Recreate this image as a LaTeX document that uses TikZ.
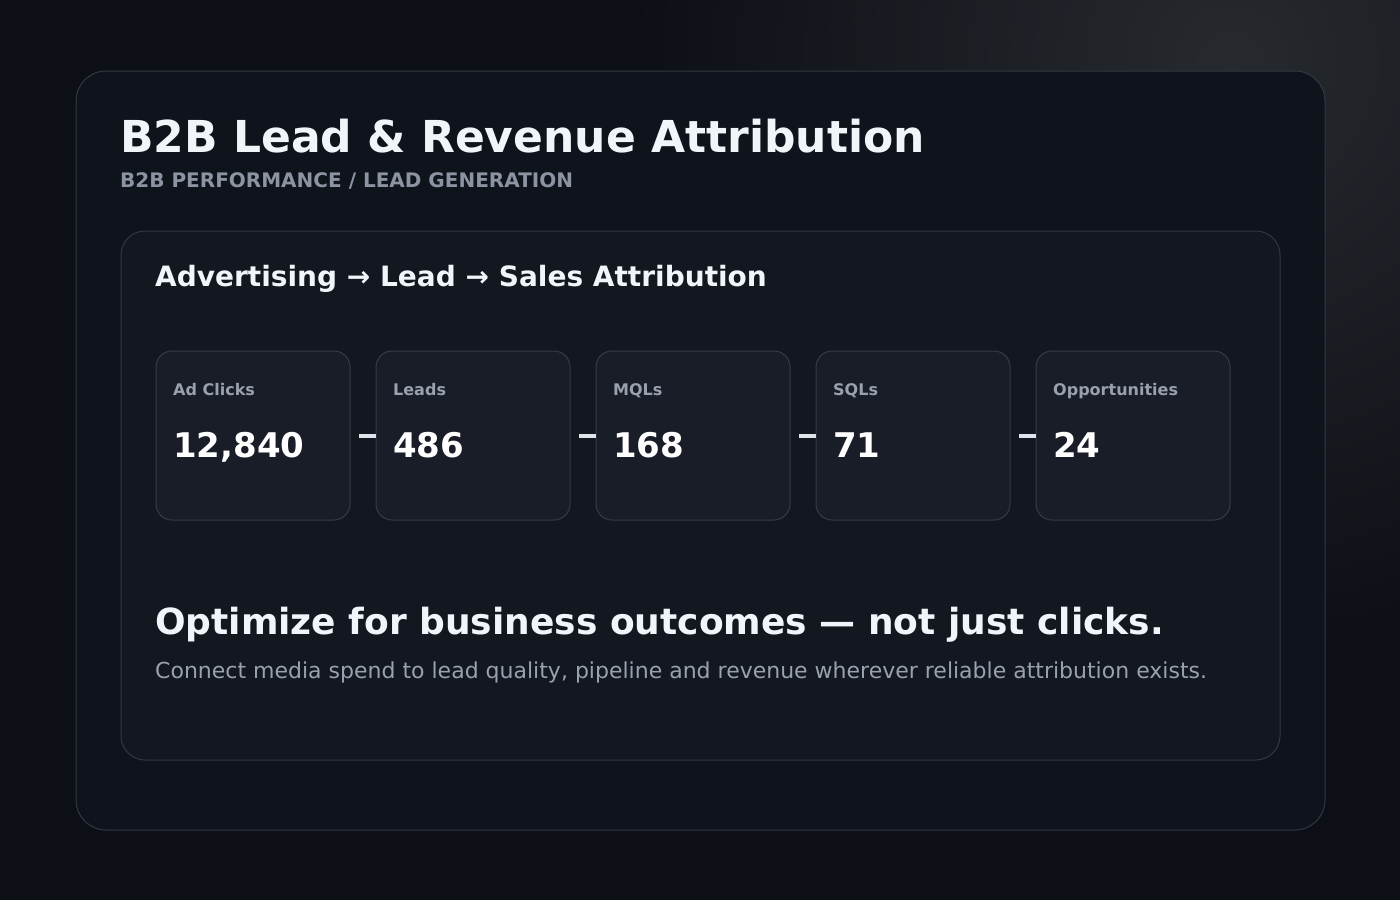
\documentclass[tikz,border=0pt]{standalone}
\usepackage{fontspec}
\setmainfont{DejaVu Sans}
\definecolor{bgbase}{HTML}{0C0F15}
\definecolor{bgglow}{HTML}{26292E}
\definecolor{cardfill}{HTML}{0F131B}
\definecolor{cardline}{HTML}{323843}
\definecolor{panelfill}{HTML}{121720}
\definecolor{boxfill}{HTML}{181D27}
\definecolor{boxline}{HTML}{363C48}
\definecolor{titlecol}{HTML}{F1F4F9}
\definecolor{mutedcol}{HTML}{8C93A1}
\definecolor{labelcol}{HTML}{9AA1AE}
\definecolor{linkcol}{HTML}{E0E3EA}
\tikzset{
  card/.style={draw=cardline, line width=1pt, fill=cardfill, rounded corners=30pt},
  panel/.style={draw=cardline, line width=1pt, fill=panelfill, rounded corners=24pt},
  stagebox/.style={draw=boxline, line width=1pt, fill=boxfill, rounded corners=16pt,
    minimum width=194pt, minimum height=169pt, inner sep=0pt},
  stagelabel/.style={anchor=base west, inner sep=0pt, text=labelcol,
    font=\bfseries\fontsize{16}{19}\selectfont},
  stagevalue/.style={anchor=base west, inner sep=0pt, text=white,
    font=\bfseries\fontsize{34}{40}\selectfont},
  link/.style={draw=linkcol, line width=4pt},
  txt/.style={anchor=base west, inner sep=0pt}
}
\begin{document}
\begin{tikzpicture}[x=1pt,y=-1pt]
\useasboundingbox (0,0) rectangle (1400,900);
\fill[bgbase] (0,0) rectangle (1400,900);
\begin{scope}
\clip (0,0) rectangle (1400,900);
\shade[inner color=bgglow, outer color=bgbase] (1230,60) circle (600);
\end{scope}
% outer card
\path[card] (76,71) rectangle (1325,830);
\node[txt, text=titlecol, font=\bfseries\fontsize{44}{52}\selectfont] (title) at (120,152) {B2B Lead \& Revenue Attribution};
\node[txt, text=mutedcol, font=\bfseries\fontsize{20}{24}\selectfont] (subtitle) at (120,187) {B2B PERFORMANCE / LEAD GENERATION};
% panel
\path[panel] (121,231) rectangle (1280,760);
\node[txt, text=titlecol, font=\bfseries\fontsize{28}{34}\selectfont] (heading) at (155,286) {Advertising → Lead → Sales Attribution};
% stage boxes
\node[stagebox] (b1) at (253,435.5) {};
\node[stagebox] (b2) at (473,435.5) {};
\node[stagebox] (b3) at (693,435.5) {};
\node[stagebox] (b4) at (913,435.5) {};
\node[stagebox] (b5) at (1133,435.5) {};
\foreach \n/\lab/\val in {b1/Ad Clicks/{12,840}, b2/Leads/486, b3/MQLs/168, b4/SQLs/71, b5/Opportunities/24}{
  \node[stagelabel] (\n-lab) at ([xshift=17.5pt,yshift=-44.5pt]\n.north west) {\lab};
  \node[stagevalue] (\n-val) at ([xshift=17.5pt,yshift=-107pt]\n.north west) {\val};
}
\foreach \a/\b in {b1/b2, b2/b3, b3/b4, b4/b5}{
  \draw[link] ([xshift=8pt]\a.east) -- (\b.west);
}
% bottom text
\node[txt, text=titlecol, font=\bfseries\fontsize{36}{42}\selectfont] (tagline) at (155,634) {Optimize for business outcomes — not just clicks.};
\node[txt, text=labelcol, font=\fontsize{22}{26}\selectfont] (desc) at (155,678) {Connect media spend to lead quality, pipeline and revenue wherever reliable attribution exists.};
\end{tikzpicture}
\end{document}
